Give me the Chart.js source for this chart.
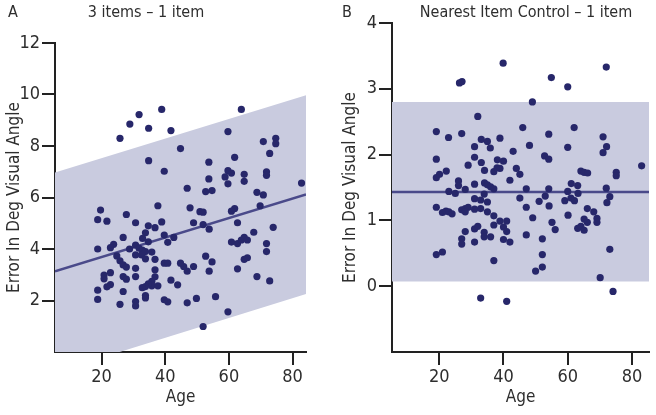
<!DOCTYPE html>
<html>
<head>
<meta charset="utf-8">
<script src="https://cdn.jsdelivr.net/npm/chart.js@4"></script>
<style>
    body { margin: 0; background: #fff; }
    #wrap { position: relative; width: 656px; height: 415px; }
    #chartA { position: absolute; left: 0; top: 0; }
    #chartB { position: absolute; left: 330px; top: 0; }
</style>
</head>
<body>
<div id="wrap">
    <canvas id="chartA" width="330" height="415"></canvas>
    <canvas id="chartB" width="326" height="415"></canvas>
</div>
<script>
// Panel A: 3 items - 1 item
const ageA = [26.9, 25.8, 28.9, 31.8, 34.8, 38.9, 41.8, 44.8, 34.8, 39.7, 46.9, 52.7, 54.7, 53.7, 53.7, 59.7, 63.9, 61.8, 59.7, 60.8,
    58.8, 59.7, 64.8, 64.8, 70.8, 74.7, 74.7, 72.8, 71.8, 71.8, 68.8, 70.8, 82.8,
    19.7, 18.8, 21.7, 27.8, 30.7, 37.7, 38.9, 34.7, 36.8, 33.8, 32.9, 39.7, 40.8, 42.7, 47.8, 48.9, 50.9, 51.9, 51.9, 53.8,
    61.8, 60.8, 62.7, 60.8, 62.7, 63.9, 64.8, 65.8, 67.8, 69.8, 73.9, 71.8, 71.8, 72.8, 68.8, 64.8, 65.8, 62.7, 59.7, 55.8,
    54.7, 52.7, 53.8, 51.9, 49.8, 46.9, 48.9, 46.9, 45.8, 44.8, 43.9, 41.8, 39.7, 40.8, 40.8, 39.7, 36.8, 36.8, 36.8, 35.8,
    35.8, 37.7, 34.7, 33.8, 32.8, 33.8, 33.8, 30.7, 30.7, 30.7, 30.7, 30.7, 30.7, 31.8, 32.8, 33.8, 35.8, 34.7, 28.8, 26.8,
    23.8, 22.8, 18.8, 24.8, 25.8, 26.8, 27.8, 26.8, 27.8, 26.8, 25.8, 22.8, 20.8, 20.8, 22.8, 21.7, 18.8, 18.8, 32.6, 33.8];
const errA = [12.36, 8.30, 8.85, 9.22, 8.69, 9.42, 8.60, 7.90, 7.43, 7.02, 6.36, 6.23, 6.27, 7.37, 6.72, 8.56, 9.42, 7.56, 7.04, 6.95,
    6.80, 6.53, 6.90, 6.63, 8.17, 8.30, 8.09, 7.71, 7.00, 6.86, 6.20, 6.10, 6.56,
    5.51, 5.14, 5.08, 5.34, 5.02, 5.68, 5.05, 4.90, 4.83, 4.63, 4.41, 4.54, 4.26, 4.45, 5.60, 5.02, 5.45, 5.43, 4.95, 4.77,
    5.57, 5.47, 5.02, 4.27, 4.21, 4.35, 4.45, 4.35, 4.65, 5.68, 4.84, 4.21, 3.90, 2.76, 2.93, 3.60, 3.66, 3.23, 1.56, 2.15,
    3.50, 3.72, 3.14, 0.99, 2.08, 1.91, 3.32, 3.14, 3.32, 3.45, 2.61, 2.79, 3.45, 3.45, 1.95, 2.03, 3.60, 3.19, 2.92, 2.74,
    2.57, 2.57, 2.65, 2.54, 2.50, 2.19, 2.10, 1.96, 1.79, 2.93, 3.25, 3.77, 4.15, 4.03, 3.96, 3.90, 3.88, 4.28, 4.00, 4.45,
    4.18, 4.05, 4.00, 3.73, 3.54, 3.38, 3.30, 2.93, 2.83, 2.35, 1.85, 3.08, 2.99, 2.84, 2.62, 2.53, 2.40, 2.04, 3.77, 3.62];
const rangeA = [5.4, 84.2];
const trendA = [3.13, 6.12];
const upperA = [6.97, 9.97];
const lowerA = [-0.78, 2.25];
const yTicksA = [2, 4, 6, 8, 10, 12];

// Panel B: Nearest Item Control - 1 item
const ageB = [39.9, 26.3, 27.1, 54.9, 60.0, 72.0, 49.0, 32.0, 19.1, 22.9, 27.0, 46.0, 54.1, 62.0, 71.0, 31.0, 33.1, 35.0, 35.9, 38.9,
    48.1, 43.0, 60.0, 72.1, 71.0, 31.0, 33.1, 29.0, 38.1, 40.0, 52.8, 54.1, 19.1, 34.1, 37.0, 38.0, 38.9, 44.0, 45.1, 42.0,
    22.2, 20.1, 19.1, 26.0, 26.0, 31.0, 34.1, 35.0, 36.0, 37.0, 28.1, 23.0, 25.0, 47.1, 54.1, 61.1, 63.1, 64.1, 65.1, 66.2,
    75.1, 75.1, 83.0, 72.0, 60.0, 53.0,
    19.1, 21.0, 22.1, 23.0, 24.0, 27.0, 28.1, 29.0, 28.1, 31.0, 32.9, 35.0, 31.0, 32.9, 35.0, 34.0, 37.0, 37.0, 38.9, 41.0,
    40.0, 41.0, 28.1, 31.0, 32.0, 34.0, 34.0, 36.0, 27.0, 27.0, 31.0, 40.0, 42.0, 19.1, 21.0, 37.0, 32.9, 41.0, 45.1, 47.1,
    49.1, 47.1, 51.1, 54.2, 52.1, 52.1, 52.1, 50.0, 55.1, 56.1, 59.1, 60.1, 61.0, 62.1, 63.1, 64.1, 65.1, 65.1, 66.1, 66.1,
    68.1, 69.1, 69.1, 72.2, 73.1, 73.1, 70.1, 74.1, 63.2];
const errB = [3.39, 3.09, 3.11, 3.17, 3.03, 3.33, 2.80, 2.58, 2.35, 2.26, 2.32, 2.41, 2.31, 2.41, 2.27, 2.12, 2.23, 2.20, 2.10, 2.25,
    2.14, 2.05, 2.11, 2.12, 2.03, 1.96, 1.88, 1.84, 1.92, 1.90, 1.98, 1.93, 1.93, 1.76, 1.74, 1.80, 1.79, 1.79, 1.70, 1.61,
    1.75, 1.70, 1.65, 1.60, 1.53, 1.55, 1.57, 1.54, 1.51, 1.48, 1.47, 1.44, 1.41, 1.48, 1.48, 1.56, 1.53, 1.75, 1.73, 1.72,
    1.73, 1.68, 1.83, 1.49, 1.44, 1.37,
    1.20, 1.12, 1.14, 1.13, 1.10, 1.16, 1.18, 1.20, 1.13, 1.17, 1.18, 1.13, 1.33, 1.31, 1.28, 1.40, 1.07, 0.93, 0.99, 0.99,
    0.90, 0.83, 0.83, 0.87, 0.91, 0.82, 0.75, 0.75, 0.72, 0.64, 0.67, 0.71, 0.67, 0.48, 0.52, 0.39, -0.18, -0.23, 1.34, 1.20,
    1.04, 0.78, 1.29, 1.22, 0.72, 0.48, 0.29, 0.23, 0.97, 0.86, 1.30, 1.08, 1.34, 1.30, 0.88, 0.91, 1.02, 0.85, 1.18, 0.97,
    1.13, 1.03, 0.97, 1.27, 1.36, 0.56, 0.13, -0.08, 1.41];
const rangeB = [5.3, 85.3];
const trendB = [1.43, 1.43];
const upperB = [2.8, 2.8];
const lowerB = [0.07, 0.07];
const yTicksB = [0, 1, 2, 3, 4];

const xTicks = [20, 40, 60, 80];

const FONT = '"Liberation Sans Narrow", "DejaVu Sans Condensed", "Noto Sans", sans-serif';
const TEXT = "#2e2e2e";
const AXIS = "#222";
const DOT = "#27276a";
const LINE = "#4a4a8a";
const BAND = "#c9cbdf";

function pairs(xs, ys) {
    return xs.map((x, i) => ({ x: x, y: ys[i] }));
}

function makeChart(id, opts) {
    const ctx = document.getElementById(id).getContext("2d");

    // letter + panel title drawn on top
    const titlePlugin = {
        id: "panelTitle",
        afterDraw(chart) {
            const c = chart.ctx;
            c.save();
            c.fillStyle = TEXT;
            c.font = "16px " + FONT;
            c.textBaseline = "middle";
            c.textAlign = "left";
            c.fillText(opts.letter, opts.letterX, 13);
            c.textAlign = "center";
            c.fillText(opts.title, opts.titleX, 13);
            c.restore();
        }
    };

    return new Chart(ctx, {
        type: "scatter",
        data: {
            datasets: [
                {
                    data: pairs(opts.age, opts.err),
                    backgroundColor: DOT,
                    borderColor: DOT,
                    pointRadius: 3.6,
                    borderWidth: 0,
                    clip: false,
                    order: 0
                },
                {
                    type: "line",
                    data: pairs(opts.range, opts.trend),
                    borderColor: LINE,
                    borderWidth: 2.5,
                    pointRadius: 0,
                    fill: false,
                    order: 1
                },
                {
                    type: "line",
                    data: pairs(opts.range, opts.lower),
                    borderWidth: 0,
                    pointRadius: 0,
                    fill: false,
                    order: 3
                },
                {
                    type: "line",
                    data: pairs(opts.range, opts.upper),
                    borderWidth: 0,
                    pointRadius: 0,
                    backgroundColor: BAND,
                    fill: "-1",
                    order: 2
                }
            ]
        },
        options: {
            responsive: false,
            animation: false,
            layout: { padding: opts.padding },
            plugins: { legend: { display: false }, tooltip: { enabled: false } },
            scales: {
                x: {
                    type: "linear",
                    min: opts.range[0],
                    max: opts.range[1],
                    afterBuildTicks: s => { s.ticks = xTicks.map(v => ({ value: v })); },
                    afterFit: s => { s.height = 63; },
                    border: { display: true, color: AXIS, width: 2 },
                    grid: { drawOnChartArea: false, drawTicks: true, tickLength: 13, color: AXIS, lineWidth: 2 },
                    ticks: { color: TEXT, padding: 2, font: { family: FONT, size: 18 } },
                    title: { display: true, text: "Age", color: TEXT, padding: { top: 0, bottom: 7 }, font: { family: FONT, size: 17 } }
                },
                y: {
                    min: opts.yMin,
                    max: opts.yMax,
                    afterBuildTicks: s => { s.ticks = opts.yTicks.map(v => ({ value: v })); },
                    afterFit: s => { s.width = opts.yWidth; },
                    border: { display: true, color: AXIS, width: 2 },
                    grid: { drawOnChartArea: false, drawTicks: true, tickLength: 13, color: AXIS, lineWidth: 2 },
                    ticks: { color: TEXT, padding: 2, font: { family: FONT, size: 18 } },
                    title: { display: true, text: "Error In Deg Visual Angle", color: TEXT, padding: { top: opts.yTitlePad, bottom: 0 }, font: { family: FONT, size: 17 } }
                }
            }
        },
        plugins: [titlePlugin]
    });
}

makeChart("chartA", {
    age: ageA, err: errA, range: rangeA, trend: trendA, upper: upperA, lower: lowerA,
    yMin: 0, yMax: 12, yTicks: yTicksA, yWidth: 55, yTitlePad: 4,
    padding: { top: 43, right: 24, bottom: 0, left: 0 },
    letter: "A", letterX: 8, title: "3 items \u2013 1 item", titleX: 146
});

makeChart("chartB", {
    age: ageB, err: errB, range: rangeB, trend: trendB, upper: upperB, lower: lowerB,
    yMin: -1, yMax: 4, yTicks: yTicksB, yWidth: 62, yTitlePad: 10,
    padding: { top: 23, right: 7, bottom: 0, left: 0 },
    letter: "B", letterX: 12, title: "Nearest Item Control \u2013 1 item", titleX: 196
});
</script>
</body>
</html>
